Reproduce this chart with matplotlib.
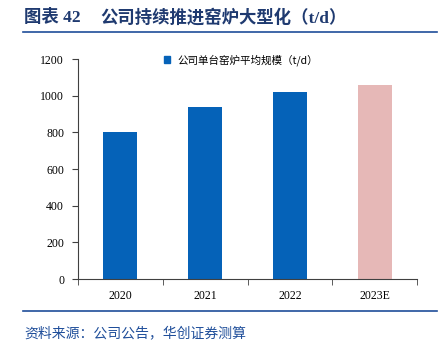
import matplotlib as mpl
mpl.use('Agg')
import matplotlib.pyplot as plt
from matplotlib.lines import Line2D
from matplotlib.patches import Patch

years = ['2020', '2021', '2022', '2023E']
capacity = [800, 940, 1020, 1058]
bar_colors = ['#0562B8', '#0562B8', '#0562B8', '#E6B8B7']
y_ticks = [0, 200, 400, 600, 800, 1000, 1200]

title_no = '图表 42'
title = '公司持续推进窑炉大型化（t/d）'
legend_label = '公司单台窑炉平均规模（t/d）'
source = '资料来源：公司公告，华创证券测算'

plt.rcParams['font.family'] = ['Liberation Serif', 'Noto Sans CJK SC', 'DejaVu Sans']

fig = plt.figure(figsize=(4.45, 3.52), dpi=100)
W, H = 445, 352
ax = fig.add_axes([78 / W, 1 - 279 / H, (417 - 78) / W, (279 - 59) / H])

x = range(len(years))
ax.bar(x, capacity, width=0.4, color=bar_colors)
ax.set_xlim(-0.5, len(years) - 0.5)
ax.set_ylim(0, 1200)
ax.set_yticks(y_ticks)
ax.set_xticks(list(x))
ax.set_xticklabels(years)
ax.set_xticks([i - 0.5 for i in range(len(years) + 1)], minor=True)
ax.tick_params(axis='x', which='major', length=0, pad=8, labelsize=8.5)
ax.tick_params(axis='x', which='minor', length=4, direction='out', color='#404040')
ax.tick_params(axis='y', length=4, direction='out', labelsize=8.5, pad=6, color='#404040')
for s in ['top', 'right']:
    ax.spines[s].set_visible(False)
for s in ['left', 'bottom']:
    ax.spines[s].set_color('#404040')
    ax.spines[s].set_linewidth(0.8)

ax.legend(handles=[Patch(color=bar_colors[0], label=legend_label)],
          loc='upper left', bbox_to_anchor=(0.225, 1.065), frameon=False,
          handlelength=0.6, handleheight=0.6, handletextpad=0.7,
          prop={'family': ['Noto Sans CJK SC'], 'size': 7.6})

fig.text(24 / W, 1 - 18 / H, title_no, fontsize=12.5, fontweight='bold', color='#1F3A70',
         family=['Liberation Serif', 'Noto Sans CJK SC'], va='center')
fig.text(100 / W, 1 - 18 / H, title, fontsize=12.5, fontweight='bold', color='#1F3A70',
         family=['Liberation Serif', 'Noto Sans CJK SC'], va='center')
fig.add_artist(Line2D([23 / W, 437 / W], [1 - 32 / H, 1 - 32 / H], color='#1F4E9A', lw=1.2))
fig.add_artist(Line2D([23 / W, 437 / W], [1 - 311 / H, 1 - 311 / H], color='#1F4E9A', lw=1.2))
fig.text(24 / W, 1 - 333 / H, source, fontsize=10, color='#1F4E9A', style='italic',
         family=['Noto Sans CJK SC'], va='center')

fig.savefig('out.png', dpi=100)
